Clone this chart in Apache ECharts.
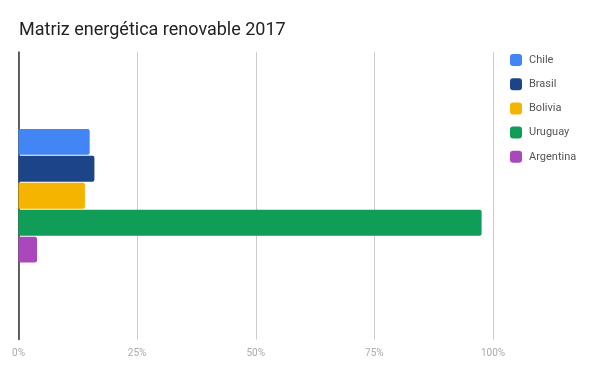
<!DOCTYPE html>
<html>
<head>
<meta charset="utf-8">
<script src="https://cdn.jsdelivr.net/npm/echarts@6/dist/echarts.min.js"></script>
<style>html,body{margin:0;padding:0;background:#fff}#c{width:600px;height:371px}</style>
</head>
<body>
<div id="c"></div>
<script>
const categories = [''];
const seriesNames = ['Chile', 'Brasil', 'Bolivia', 'Uruguay', 'Argentina'];
const chile = [15];
const brasil = [16];
const bolivia = [14];
const uruguay = [97.6];
const argentina = [3.9];
const colors = ['#4285F4', '#1C4587', '#F4B400', '#0F9D58', '#AB47BC'];
const values = [chile, brasil, bolivia, uruguay, argentina];

const chart = echarts.init(document.getElementById('c'));
chart.setOption({
  animation: false,
  title: {
    text: 'Matriz energética renovable 2017',
    left: 14, top: 16,
    textStyle: { fontFamily: 'Roboto', fontSize: 18, fontWeight: 'normal', color: '#222' }
  },
  legend: {
    orient: 'vertical', left: 505, top: 49,
    itemWidth: 12, itemHeight: 12, itemGap: 12.2,
    icon: 'roundRect',
    textStyle: { fontFamily: 'Roboto', fontSize: 11, color: '#555', padding: [0,0,0,2] },
    data: seriesNames
  },
  grid: { left: 18.5, right: 107, top: 52, bottom: 31.5, containLabel: false },
  xAxis: {
    type: 'value', min: 0, max: 100, interval: 25,
    axisLine: { show: false }, axisTick: { show: false },
    splitLine: { lineStyle: { color: '#ccc', width: 1 } },
    axisLabel: { formatter: '{value}%', color: '#aaa', fontFamily: 'Roboto', fontSize: 10, margin: 9 }
  },
  yAxis: {
    type: 'category', data: categories, inverse: true,
    axisLine: { lineStyle: { color: '#333', width: 1.5 } },
    axisTick: { show: false }, axisLabel: { show: false }
  },
  series: seriesNames.map((n, i) => ({
    name: n, type: 'bar', data: values[i],
    barGap: '4%', barCategoryGap: '53.5%',
    itemStyle: { color: colors[i], borderRadius: [0, 2, 2, 0] }
  }))
});
</script>
</body>
</html>
